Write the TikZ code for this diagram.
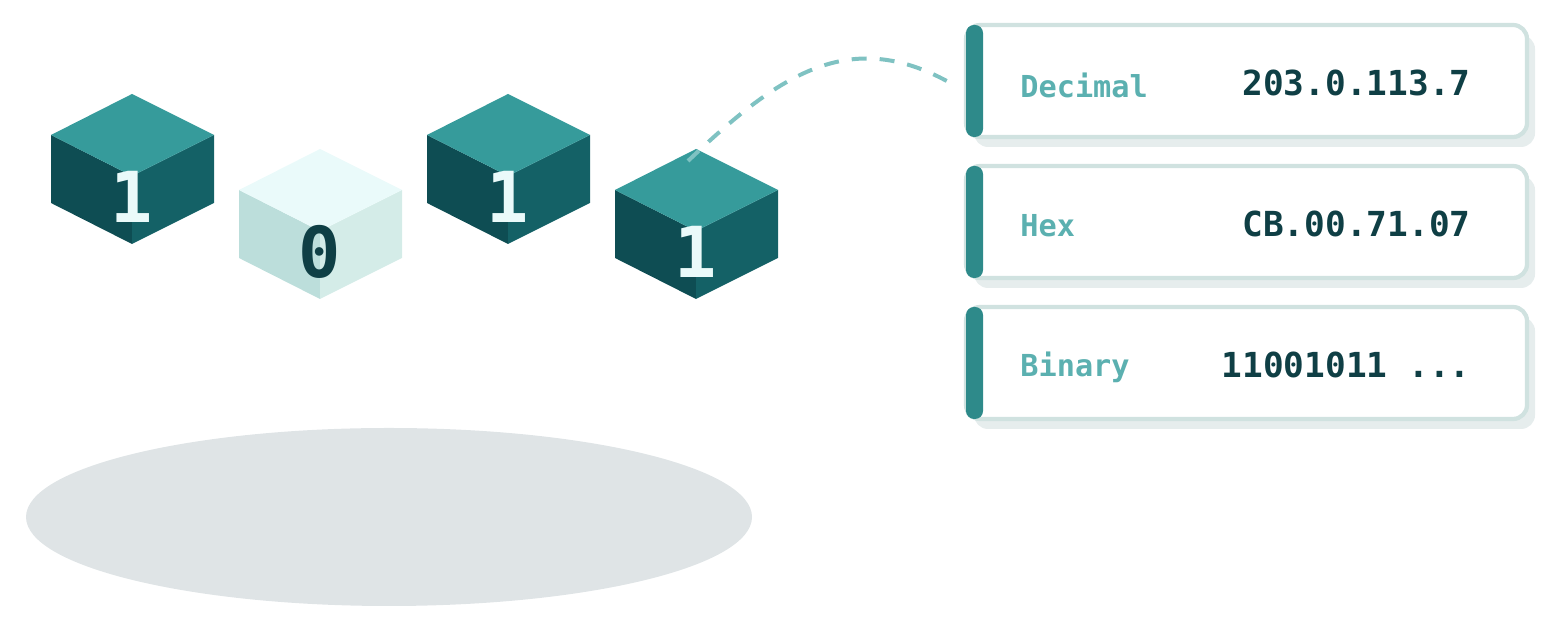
\documentclass[tikz,border=0pt]{standalone}
\usepackage{fontspec}
\setmonofont{DejaVu Sans Mono}
\usetikzlibrary{calc}
\usetikzlibrary{positioning}

\definecolor{darktop}{HTML}{369B9B}
\definecolor{darkleft}{HTML}{0E4D53}
\definecolor{darkright}{HTML}{146166}
\definecolor{lighttop}{HTML}{EAFAFA}
\definecolor{lightleft}{HTML}{BCDEDB}
\definecolor{lightright}{HTML}{D4ECE8}
\definecolor{shadowgrey}{HTML}{DFE4E6}
\definecolor{cardline}{HTML}{D0E2E0}
\definecolor{cardshade}{HTML}{E6EDED}
\definecolor{accent}{HTML}{2E8A8A}
\definecolor{keycol}{HTML}{5BB0B0}
\definecolor{valcol}{HTML}{0F3F45}
\definecolor{dashcol}{HTML}{7FC2C2}

\tikzset{
  bit/.style={font=\ttfamily\bfseries\fontsize{20}{20}\selectfont},
  key/.style={font=\ttfamily\bfseries\fontsize{8.6}{10}\selectfont,text=keycol,anchor=west},
  val/.style={font=\ttfamily\bfseries\fontsize{9.8}{11}\selectfont,text=valcol,anchor=east}
}

% cube: #1 top vertex, #2 top, #3 left, #4 right, #5 digit, #6 digit colour, #7 name
\newcommand{\bitcube}[7]{
  \coordinate (#7) at #1;
  \fill[#3] (#7) ++(-0.81,-0.41) -- ++(0.81,-0.41) -- ++(0,-0.68) -- ++(-0.81,0.41) -- cycle;
  \fill[#4] (#7) ++(0.82,-0.41) -- ++(-0.82,-0.41) -- ++(0,-0.68) -- ++(0.82,0.41) -- cycle;
  \fill[#2] (#7) -- ++(-0.81,-0.41) -- ++(0.81,-0.41) -- ++(0.82,0.41) -- cycle;
  \node[bit,text=#6] (#7-d) at ($(#7)+(0,-1.03)$) {#5};
}

% card: #1 top-left corner, #2 name, #3 key, #4 value
\newcommand{\infocard}[4]{
  \fill[cardshade,rounded corners=0.14cm] ($#1+(0.08,-0.10)$) rectangle ++(5.61,-1.12);
  \draw[cardline,fill=white,line width=1.2pt,rounded corners=0.14cm] #1 rectangle ++(5.61,-1.12);
  \node[inner sep=0pt,minimum width=5.61cm,minimum height=1.12cm,anchor=north west] (#2) at #1 {};
  \fill[accent,rounded corners=0.08cm] #1 rectangle ++(0.17,-1.12);
  \node[key] (#2-k) at ($#1+(0.42,-0.60)$) {#3};
  \node[val] (#2-v) at ($#1+(5.17,-0.58)$) {#4};
}

\begin{document}
\begin{tikzpicture}
  \useasboundingbox (0,0) rectangle (15.6,6.33);

  \fill[shadowgrey] (3.89,1.16) ellipse [x radius=3.63, y radius=0.89];

  \bitcube{(1.32,5.39)}{darktop}{darkleft}{darkright}{1}{lighttop}{cubeA}
  \bitcube{(3.20,4.84)}{lighttop}{lightleft}{lightright}{0}{valcol}{cubeB}
  \bitcube{(5.08,5.39)}{darktop}{darkleft}{darkright}{1}{lighttop}{cubeC}
  \bitcube{(6.96,4.84)}{darktop}{darkleft}{darkright}{1}{lighttop}{cubeD}

  \infocard{(9.66,6.08)}{dec}{Decimal}{203.0.113.7}
  \infocard{(9.66,4.67)}{hex}{Hex}{CB.00.71.07}
  \infocard{(9.66,3.26)}{bin}{Binary}{11001011 ...}

  \coordinate (cubeD-top) at ($(cubeD)+(-0.08,-0.12)$);
  \draw[dashcol,line width=0.4mm,dash pattern=on 1.5mm off 1.3mm]
    (cubeD-top) .. controls (7.8,5.6) and (8.5,6.05) .. ($(dec.west)+(-0.18,0)$);
\end{tikzpicture}
\end{document}
